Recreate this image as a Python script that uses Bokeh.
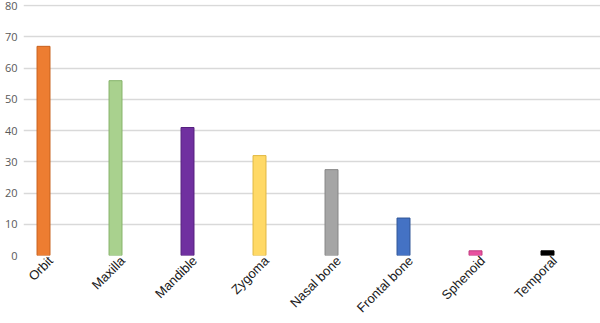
import math
from bokeh.plotting import figure
from bokeh.models import Range1d, FixedTicker, ColumnDataSource
from bokeh.embed import file_html
from bokeh.resources import INLINE

# Fracture sites and their share (%)
sites = ["Orbit", "Maxilla", "Mandible", "Zygoma", "Nasal bone",
         "Frontal bone", "Sphenoid", "Temporal"]
share = [67, 56, 41, 32, 27.5, 12, 1.5, 1.5]
fill_colors = ["#ED7D31", "#A9D18E", "#7030A0", "#FFD966", "#A5A5A5",
               "#4472C4", "#E8509E", "#000000"]
edge_colors = ["#C8611C", "#86B36A", "#55207E", "#E0B842", "#858585",
               "#2F5597", "#C03A7F", "#000000"]
y_ticks = [0, 10, 20, 30, 40, 50, 60, 70, 80]

pos = [i + 0.5 for i in range(len(sites))]
src = ColumnDataSource(dict(x=pos, top=share, fill=fill_colors, edge=edge_colors))

p = figure(width=600, height=323, output_backend="svg", toolbar_location=None,
           x_range=Range1d(0.222, 8.236), y_range=Range1d(0, 80.4),
           min_border_left=23, min_border_right=0, min_border_top=4,
           min_border_bottom=68)
p.outline_line_color = None
p.background_fill_color = "white"

p.vbar(x="x", top="top", bottom=0, width=0.18, source=src,
       fill_color="fill", line_color="edge", line_width=1)

# y axis: grey numbers, no line or ticks
p.yaxis.ticker = FixedTicker(ticks=y_ticks)
p.yaxis.axis_line_color = None
p.yaxis.major_tick_line_color = None
p.yaxis.minor_tick_line_color = None
p.yaxis.major_tick_in = 0
p.yaxis.major_tick_out = 0
p.yaxis.major_label_standoff = 6
p.yaxis.major_label_text_font = "Open Sans"
p.yaxis.major_label_text_font_size = "11px"
p.yaxis.major_label_text_color = "#595959"

# x axis: rotated category names hanging below the baseline, their upper
# end sitting just right of each bar
label_pos = [x + 0.1 for x in pos]
p.xaxis.ticker = FixedTicker(ticks=label_pos)
p.xaxis.major_label_overrides = {x: s for x, s in zip(label_pos, sites)}
p.xaxis.major_label_orientation = math.pi / 4
p.xaxis.major_label_text_baseline = "top"
p.xaxis.axis_line_color = None
p.xaxis.major_tick_line_color = None
p.xaxis.minor_tick_line_color = None
p.xaxis.major_tick_in = 0
p.xaxis.major_tick_out = 0
p.xaxis.major_label_standoff = 3
p.xaxis.major_label_text_font = "Liberation Sans"
p.xaxis.major_label_text_font_size = "13px"
p.xaxis.major_label_text_color = "#1a1a1a"

p.xgrid.grid_line_color = None
p.ygrid.ticker = FixedTicker(ticks=y_ticks)
p.ygrid.grid_line_color = "#D9D9D9"
p.ygrid.grid_line_width = 1.5

open("out.html", "w").write(file_html(p, INLINE))
